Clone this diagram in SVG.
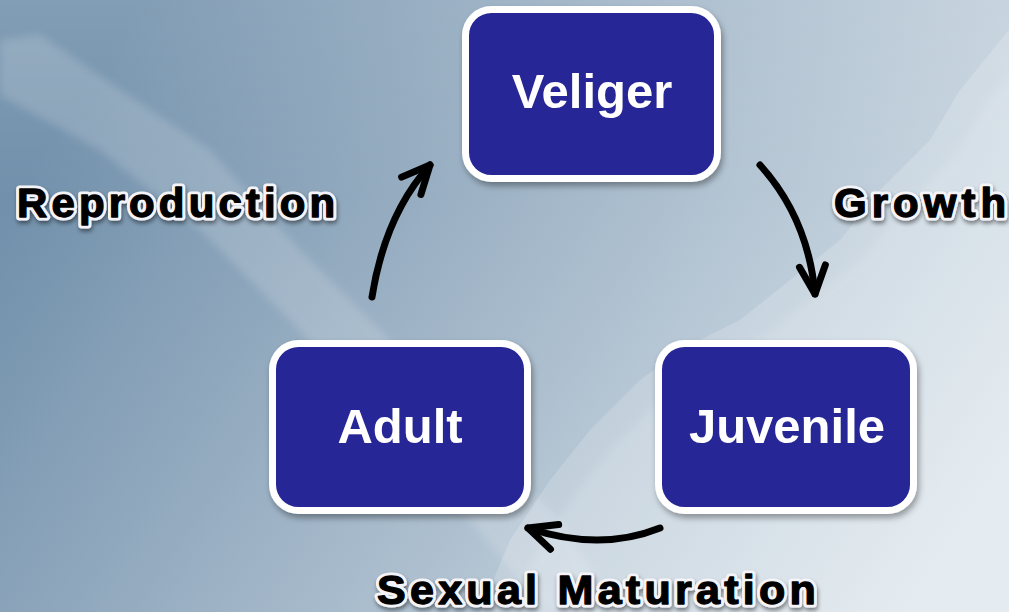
<svg xmlns="http://www.w3.org/2000/svg" width="1009" height="612" viewBox="0 0 1009 612">
  <defs>
    <linearGradient id="bg" x1="0" y1="0.35" x2="1" y2="0.75">
      <stop offset="0" stop-color="#7190ab"/>
      <stop offset="0.45" stop-color="#a2b6c8"/>
      <stop offset="1" stop-color="#dbe5ec"/>
    </linearGradient>
    <linearGradient id="topfade" x1="0" y1="0" x2="0" y2="1">
      <stop offset="0" stop-color="#ffffff" stop-opacity="0.12"/>
      <stop offset="1" stop-color="#ffffff" stop-opacity="0"/>
    </linearGradient>
    <filter id="soft" x="-10%" y="-10%" width="120%" height="120%">
      <feGaussianBlur stdDeviation="4"/>
    </filter>
    <filter id="boxShadow" x="-10%" y="-10%" width="125%" height="130%">
      <feDropShadow dx="2" dy="4" stdDeviation="3" flood-color="#000" flood-opacity="0.35"/>
    </filter>
    <filter id="txtShadow" x="-5%" y="-20%" width="110%" height="160%">
      <feDropShadow dx="1" dy="3" stdDeviation="2" flood-color="#000" flood-opacity="0.45"/>
    </filter>
    <marker id="ah" markerUnits="userSpaceOnUse" orient="auto" viewBox="-40 -30 60 60" markerWidth="60" markerHeight="60" refX="0" refY="0" overflow="visible">
      <path d="M-28,-13 L0,0 L-28,13" fill="none" stroke="#000" stroke-width="7" stroke-linecap="round" stroke-linejoin="round"/>
    </marker>
    <style>
      .box { fill: #272796; stroke: #ffffff; stroke-width: 7; }
      .nodeText { font-family: "Liberation Sans", Arial, sans-serif; font-weight: bold; font-size: 49px; fill: #ffffff; text-anchor: middle; }
      .lblHalo { font-family: "Liberation Sans", Arial, sans-serif; font-weight: bold; font-size: 40px; fill: #ffffff; stroke: #f4f4f8; stroke-width: 7; stroke-linejoin: round; }
      .lbl { font-family: "Liberation Sans", Arial, sans-serif; font-weight: bold; font-size: 40px; fill: #000000; stroke: #000000; stroke-width: 1.3; stroke-linejoin: round; }
      .conn { fill: none; stroke: #000000; stroke-width: 7; stroke-linecap: round; marker-end: url(#ah); }
    </style>
  </defs>

  <g id="background">
    <rect x="0" y="0" width="1009" height="612" fill="url(#bg)"/>
    <rect x="0" y="0" width="1009" height="200" fill="url(#topfade)"/>
    <path d="M0,40 L40,35 L120,90 L210,150 L300,250 L400,350 L480,440 L560,520 L620,612 L545,612 L470,520 L380,420 L290,320 L200,230 L100,150 L0,95 Z" fill="#ffffff" opacity="0.16" filter="url(#soft)"/>
    <path d="M1009,30 L960,90 L930,140 L880,190 L840,240 L790,280 L740,320 L690,345 L640,380 L590,430 L550,480 L510,540 L480,612 L1009,612 Z" fill="#ffffff" opacity="0.18"/>
    <path d="M1009,30 L960,90 L930,140 L880,190 L840,240 L790,280 L740,320 L690,345 L640,380 L590,430 L550,480 L510,540 L480,612 L1009,612 Z" fill="#ffffff" opacity="0.12" filter="url(#soft)" transform="translate(25,15)"/>
  </g>

  <g id="connectors">
    <path class="conn" d="M372,297 Q385,215 430,165"/>
    <path class="conn" d="M760,165 Q808,218 815,294"/>
    <path class="conn" d="M660,528 Q600,552 528,528"/>
  </g>

  <g id="node-veliger" filter="url(#boxShadow)">
    <rect class="box" x="465.5" y="9.5" width="252" height="169" rx="26" ry="26"/>
    <text class="nodeText" x="592" y="108">Veliger</text>
  </g>

  <g id="node-juvenile" filter="url(#boxShadow)">
    <rect class="box" x="658.5" y="343.5" width="255" height="167" rx="26" ry="26"/>
    <text class="nodeText" x="787" y="443">Juvenile</text>
  </g>

  <g id="node-adult" filter="url(#boxShadow)">
    <rect class="box" x="272.5" y="343.5" width="255" height="167" rx="26" ry="26"/>
    <text class="nodeText" x="400" y="443">Adult</text>
  </g>

  <g id="label-reproduction" transform="translate(17,217) scale(1.05,1)">
    <text class="lblHalo" x="0" y="0" textLength="303" lengthAdjust="spacing" filter="url(#txtShadow)">Reproduction</text>
    <text class="lbl" x="0" y="0" textLength="303" lengthAdjust="spacing">Reproduction</text>
  </g>

  <g id="label-growth" transform="translate(834,217) scale(1.05,1)">
    <text class="lblHalo" x="0" y="0" textLength="164" lengthAdjust="spacing" filter="url(#txtShadow)">Growth</text>
    <text class="lbl" x="0" y="0" textLength="164" lengthAdjust="spacing">Growth</text>
  </g>

  <g id="label-sexual-maturation" transform="translate(377,604) scale(1.05,1)">
    <text class="lblHalo" x="0" y="0" textLength="418" lengthAdjust="spacing" filter="url(#txtShadow)" style="font-size:41px">Sexual Maturation</text>
    <text class="lbl" x="0" y="0" textLength="418" lengthAdjust="spacing" style="font-size:41px">Sexual Maturation</text>
  </g>
</svg>
